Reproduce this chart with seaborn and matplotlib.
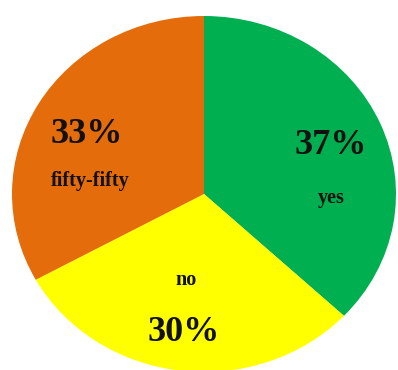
import matplotlib
matplotlib.use("Agg")
import matplotlib.pyplot as plt
import seaborn as sns

# 数据
answers = ["yes", "no", "fifty-fifty"]
shares = [37, 30, 33]
colors = ["#00B050", "#FFFF00", "#E46C0A"]

# 文字位置（像素，基线）
W, H = 398, 370
pct_pos = [(331, 154), (184, 341), (87, 143)]
lab_pos = [(331, 203), (186, 285), (90, 186)]

sns.set_theme(style="white")
plt.rcParams['font.family'] = ['Liberation Serif', 'DejaVu Serif']

fig = plt.figure(figsize=(W / 100, H / 100), dpi=100)
ax = fig.add_axes([0, 0, 1, 1])

ax.pie(shares, colors=colors, startangle=90, counterclock=False,
       wedgeprops=dict(linewidth=0))

# 椭圆：水平半径约 192 px，竖直约 178 px，中心 (204, 194)
rx, ry, cx, cy = 192, 178, 204, 194
ax.set_aspect('auto')
ax.set_xlim(-cx / rx, (W - cx) / rx)
ax.set_ylim(-(H - cy) / ry, cy / ry)
ax.axis('off')

for i in range(len(answers)):
    px, py = pct_pos[i]
    ax.text(px / W, 1 - py / H, f"{shares[i]}%", transform=ax.transAxes,
            ha='center', va='baseline', fontsize=26, fontweight='bold', color='#111111')
    lx, ly = lab_pos[i]
    ax.text(lx / W, 1 - ly / H, answers[i], transform=ax.transAxes,
            ha='center', va='baseline', fontsize=14.5, fontweight='bold', color='#111111')

fig.savefig("out.png", dpi=100, facecolor='white')
